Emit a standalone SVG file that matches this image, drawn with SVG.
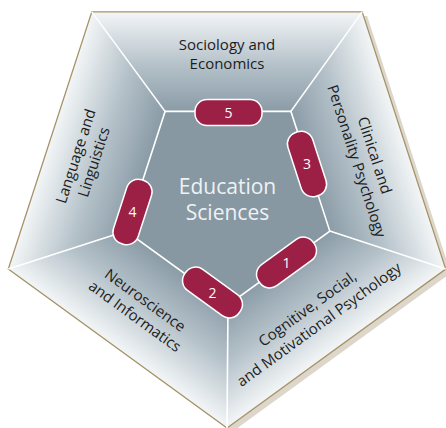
<svg xmlns="http://www.w3.org/2000/svg" width="446" height="428" viewBox="0 0 446 428">
<style>
.lb{font-family:"Open Sans","Noto Sans","Liberation Sans",sans-serif;font-size:15px;fill:#1c1c1c;text-anchor:middle}
.ct{font-family:"Open Sans","Noto Sans","Liberation Sans",sans-serif;font-size:21px;fill:#eef2f4;text-anchor:middle}
.b{fill:#9c2045;stroke:#ffffff;stroke-width:1.5}
.bn{font-family:"Open Sans","Noto Sans","Liberation Sans",sans-serif;font-size:14px;fill:#ffffff;text-anchor:middle}
.ln{stroke:#ffffff;stroke-width:1.6;fill:none}
</style>
<defs>
<linearGradient id="gs" gradientUnits="userSpaceOnUse" x1="227" y1="111" x2="227" y2="12">
<stop offset="0" stop-color="#8b9ca7"/>
<stop offset="0.45" stop-color="#b3c0c8"/>
<stop offset="1" stop-color="#f3f6f7"/>
</linearGradient>
<polygon id="tri" points="227,198 91.8,11.9 362.2,11.9"/>
</defs>
<polygon points="91.8,11.9 362.2,11.9 445.7,269.1 227,428 8.3,269.1" transform="translate(5,4)" fill="#dcd7ca"/>
<g id="sector-sociology">
<use href="#tri" fill="url(#gs)"/>
<text class="lb" x="227" y="50">Sociology and</text>
<text class="lb" x="227" y="69">Economics</text>
</g>
<g id="sector-clinical">
<use href="#tri" fill="url(#gs)" transform="rotate(72 227 198)"/>
<g transform="rotate(72 227 198)">
<text class="lb" x="232" y="49.5">Clinical and</text>
<text class="lb" x="232" y="68.5">Personality Psychology</text>
</g>
</g>
<g id="sector-cognitive">
<use href="#tri" fill="url(#gs)" transform="rotate(144 227 198)"/>
<g transform="rotate(-36 227 198)">
<text class="lb" x="227" y="340">Cognitive, Social,</text>
<text class="lb" x="227" y="359.5">and Motivational Psychology</text>
</g>
</g>
<g id="sector-neuroscience">
<use href="#tri" fill="url(#gs)" transform="rotate(216 227 198)"/>
<g transform="rotate(36 227 198)">
<text class="lb" x="221" y="334">Neuroscience</text>
<text class="lb" x="222" y="353">and Informatics</text>
</g>
</g>
<g id="sector-language">
<use href="#tri" fill="url(#gs)" transform="rotate(288 227 198)"/>
<g transform="rotate(-72 227 198)">
<text class="lb" x="220" y="46.5">Language and</text>
<text class="lb" x="220" y="65.5">Linguistics</text>
</g>
</g>
<polygon points="91.8,11.9 362.2,11.9 445.7,269.1 227,428 8.3,269.1" fill="none" stroke="#a69268" stroke-width="1.3"/>
<g id="education-sciences">
<polygon points="165.1,111.4 290.9,111.4 329.8,231.1 228,305 126.2,231.1" fill="#8798a3"/>
<text class="ct" x="227.5" y="193.5">Education</text>
<text class="ct" x="227.5" y="219.5">Sciences</text>
</g>
<g id="connectors">
<polygon class="ln" points="165.1,111.4 290.9,111.4 329.8,231.1 228,305 126.2,231.1"/>
<line class="ln" x1="165.1" y1="111.4" x2="91.8" y2="11.9"/>
<line class="ln" x1="290.9" y1="111.4" x2="362.2" y2="11.9"/>
<line class="ln" x1="329.8" y1="231.1" x2="445.7" y2="269.1"/>
<line class="ln" x1="228" y1="305" x2="227" y2="428"/>
<line class="ln" x1="126.2" y1="231.1" x2="8.3" y2="269.1"/>
</g>
<g id="badge-5" transform="translate(228.5,112.5)">
<rect class="b" x="-33.5" y="-13" width="67" height="26" rx="12"/>
<text class="bn" y="5">5</text>
</g>
<g id="badge-3" transform="translate(307,164)">
<rect class="b" x="-33.5" y="-13" width="67" height="26" rx="12" transform="rotate(72)"/>
<text class="bn" y="5">3</text>
</g>
<g id="badge-1" transform="translate(286.5,262.5)">
<rect class="b" x="-33.5" y="-13" width="67" height="26" rx="12" transform="rotate(-36)"/>
<text class="bn" y="5">1</text>
</g>
<g id="badge-2" transform="translate(212.5,292.5)">
<rect class="b" x="-33.5" y="-13" width="67" height="26" rx="12" transform="rotate(36)"/>
<text class="bn" y="5">2</text>
</g>
<g id="badge-4" transform="translate(132.5,212)">
<rect class="b" x="-33.5" y="-13" width="67" height="26" rx="12" transform="rotate(-72)"/>
<text class="bn" y="5">4</text>
</g>
</svg>
